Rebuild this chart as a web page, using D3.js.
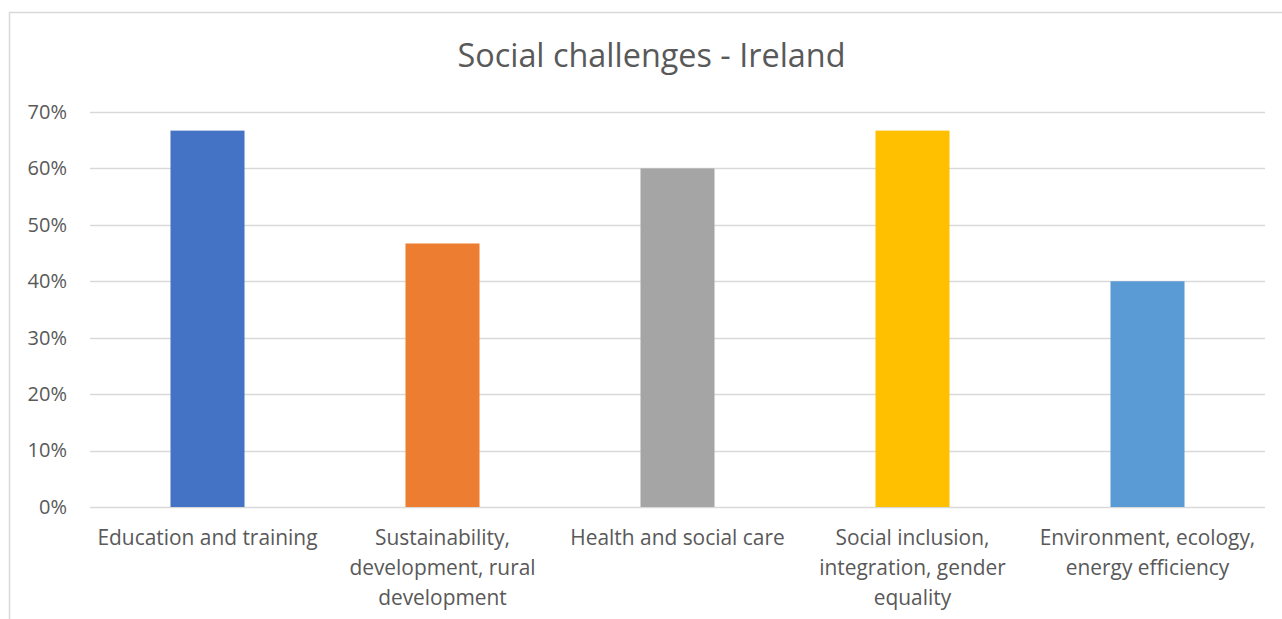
<!DOCTYPE html>
<html>
<head>
<meta charset="utf-8">
<script src="https://cdn.jsdelivr.net/npm/d3@7"></script>
<style>
  html, body { margin: 0; padding: 0; background: #fff; }
  svg { display: block; }
  text { font-family: "Open Sans", "Liberation Sans", sans-serif; fill: #595959; }
</style>
</head>
<body>
<script>
// ---- data ----
const title = "Social challenges - Ireland";
const categories = [
  "Education and training",
  "Sustainability, development, rural development",
  "Health and social care",
  "Social inclusion, integration, gender equality",
  "Environment, ecology, energy efficiency"
];
const values = [0.667, 0.467, 0.60, 0.667, 0.40];
const barColors = ["#4472C4", "#ED7D31", "#A5A5A5", "#FFC000", "#5B9BD5"];
const yTicks = [0, 0.1, 0.2, 0.3, 0.4, 0.5, 0.6, 0.7];

// ---- layout ----
const W = 1282, H = 619;
const plot = { left: 90, right: 1265, top: 112, bottom: 507 };

const svg = d3.select("body").append("svg").attr("width", W).attr("height", H);

// chart area border (left + top visible)
svg.append("path")
  .attr("d", `M9.5,${H} L9.5,12.5 L${W},12.5`)
  .attr("fill", "none").attr("stroke", "#d9d9d9").attr("stroke-width", 1.5);

const x = d3.scaleBand().domain(categories).range([plot.left, plot.right])
  .paddingInner(0.685).paddingOuter(0.3425);
const y = d3.scaleLinear().domain([0, 0.7]).range([plot.bottom, plot.top]);

// gridlines
svg.append("g").selectAll("line").data(yTicks).join("line")
  .attr("x1", plot.left).attr("x2", plot.right)
  .attr("y1", d => Math.round(y(d)) + 0.5).attr("y2", d => Math.round(y(d)) + 0.5)
  .attr("stroke", "#d9d9d9").attr("stroke-width", 1.3);

// y axis labels
const yAxis = d3.axisLeft(y).tickValues(yTicks).tickFormat(d3.format(".0%")).tickSize(0).tickPadding(0);
const ya = svg.append("g").attr("transform", `translate(67,0)`).call(yAxis);
ya.select(".domain").remove();
ya.selectAll("text").style("font-size", "20px").style("fill", "#595959")
  .style("font-family", '"Open Sans", sans-serif');

// bars
svg.append("g").selectAll("rect").data(values).join("rect")
  .attr("x", (d, i) => x(categories[i]))
  .attr("width", x.bandwidth())
  .attr("y", d => y(d))
  .attr("height", d => y(0) - y(d))
  .attr("fill", (d, i) => barColors[i]);

// category labels with wrapping
const labelSize = 20.9, lineH = 30, wrapW = 235;
const lg = svg.append("g");
categories.forEach((c, i) => {
  const cx = x(c) + x.bandwidth() / 2;
  const t = lg.append("text").attr("text-anchor", "middle")
    .style("font-size", labelSize + "px");
  const words = c.split(" ");
  let lines = [], cur = [];
  const probe = lg.append("text").style("font-size", labelSize + "px");
  words.forEach(w => {
    const test = cur.concat([w]).join(" ");
    probe.text(test);
    if (cur.length && probe.node().getComputedTextLength() > wrapW) {
      lines.push(cur.join(" ")); cur = [w];
    } else cur.push(w);
  });
  if (cur.length) lines.push(cur.join(" "));
  probe.remove();
  lines.forEach((l, k) => {
    t.append("tspan").attr("x", cx).attr("y", 538 + k * lineH).attr("dy", "0.35em").text(l);
  });
});

// title
svg.append("text").attr("x", 651.5).attr("y", 56).attr("dy", "0.35em")
  .attr("text-anchor", "middle").style("font-size", "32.4px").text(title);
</script>
</body>
</html>
